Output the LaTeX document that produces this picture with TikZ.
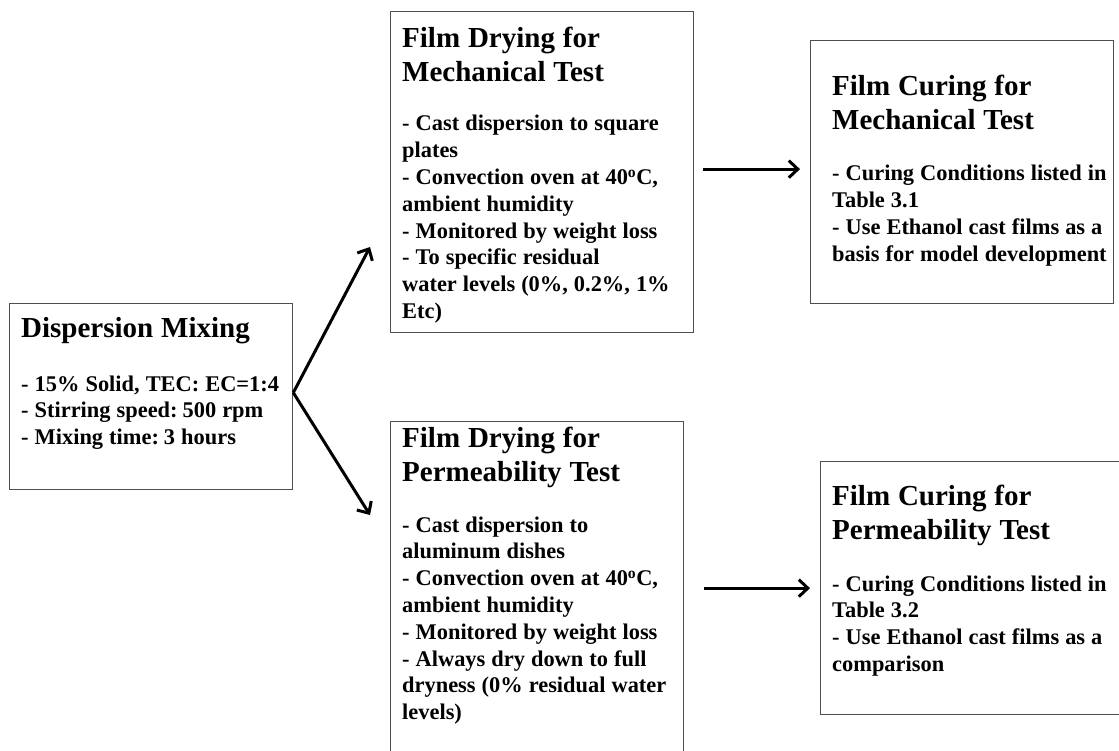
\documentclass[tikz,border=0pt]{standalone}
\usepackage{fontspec}
\setmainfont{Liberation Serif}
\usetikzlibrary{arrows.meta}

\setlength{\parindent}{0pt}
\newcommand{\stagehead}{\bfseries\fontsize{29}{34}\selectfont\spaceskip=0.27em plus 0.1em\relax}
\newcommand{\stagebody}{\bfseries\fontsize{22.4}{26.8}\selectfont\spaceskip=0.27em plus 0.1em\relax}
\definecolor{boxgray}{RGB}{80,80,80}

\tikzset{
  stage/.style={draw=boxgray, line width=1.3pt, anchor=north west, inner sep=0pt},
  notes/.style={anchor=north west, inner sep=0pt, align=left, text width=300pt},
  flow/.style={-{Straight Barb[length=9pt,width=17pt]}, line width=3pt}
}

\begin{document}
\begin{tikzpicture}[x=1pt,y=-1pt]
  \useasboundingbox (0,0) rectangle (1119,751);
  \clip (0,0) rectangle (1119,751);

  % boxes
  \node[stage, minimum width=283pt, minimum height=186pt] (mix) at (9,303) {};
  \node[stage, minimum width=303pt, minimum height=321pt] (mdry) at (390,11) {};
  \node[stage, minimum width=293pt, minimum height=345pt] (pdry) at (390,421) {};
  \node[stage, minimum width=303pt, minimum height=263pt] (mcure) at (810,40) {};
  \node[stage, minimum width=320pt, minimum height=253pt] (pcure) at (820,461) {};

  % texts
  \node[notes] (mixtxt) at ([xshift=12pt]mix.north west)
    {{\stagehead\rule{0pt}{34pt}Dispersion Mixing\par}\vspace{27pt}
     {\stagebody - 15\% Solid, TEC: EC=1:4\\ - Stirring speed: 500 rpm\\ - Mixing time: 3 hours\par}};
  \node[notes] (mdrytxt) at ([xshift=12pt]mdry.north west)
    {{\stagehead\rule{0pt}{36pt}Film Drying for\\ Mechanical Test\par}\vspace{23pt}
     {\stagebody - Cast dispersion to square\\ plates\\ - Convection oven at 40\textsuperscript{o}C,\\
      ambient humidity\\ - Monitored by weight loss\\ - To specific residual\\
      water levels (0\%, 0.2\%, 1\%\\ Etc)\par}};
  \node[notes] (pdrytxt) at ([xshift=12pt]pdry.north west)
    {{\stagehead\rule{0pt}{26pt}Film Drying for\\ Permeability Test\par}\vspace{24pt}
     {\stagebody - Cast dispersion to\\ aluminum dishes\\ - Convection oven at 40\textsuperscript{o}C,\\
      ambient humidity\\ - Monitored by weight loss\\ - Always dry down to full\\
      dryness (0\% residual water\\ levels)\par}};
  \node[notes] (mcuretxt) at ([xshift=22pt]mcure.north west)
    {{\stagehead\rule{0pt}{55pt}Film Curing for\\ Mechanical Test\par}\vspace{25pt}
     {\stagebody - Curing Conditions listed in\\ Table 3.1\\ - Use Ethanol cast films as a\\
      basis for model development\par}};
  \node[notes] (pcuretxt) at ([xshift=12pt]pcure.north west)
    {{\stagehead\rule{0pt}{44pt}Film Curing for\\ Permeability Test\par}\vspace{25pt}
     {\stagebody - Curing Conditions listed in\\ Table 3.2\\ - Use Ethanol cast films as a\\
      comparison\par}};

  % arrows
  \coordinate (uptip) at (370,247);
  \coordinate (lowtip) at (370,515);
  \draw[flow] ([yshift=4pt]mix.east) -- (uptip);
  \draw[flow] ([yshift=4pt]mix.east) -- (lowtip);
  \draw[flow, shorten <=9pt, shorten >=10pt] ([yshift=3pt]mdry.east) -- ([yshift=3pt]mcure.west);
  \draw[flow, shorten <=20pt, shorten >=10pt] (pdry.east |- pcure.west) -- (pcure.west);
\end{tikzpicture}
\end{document}
